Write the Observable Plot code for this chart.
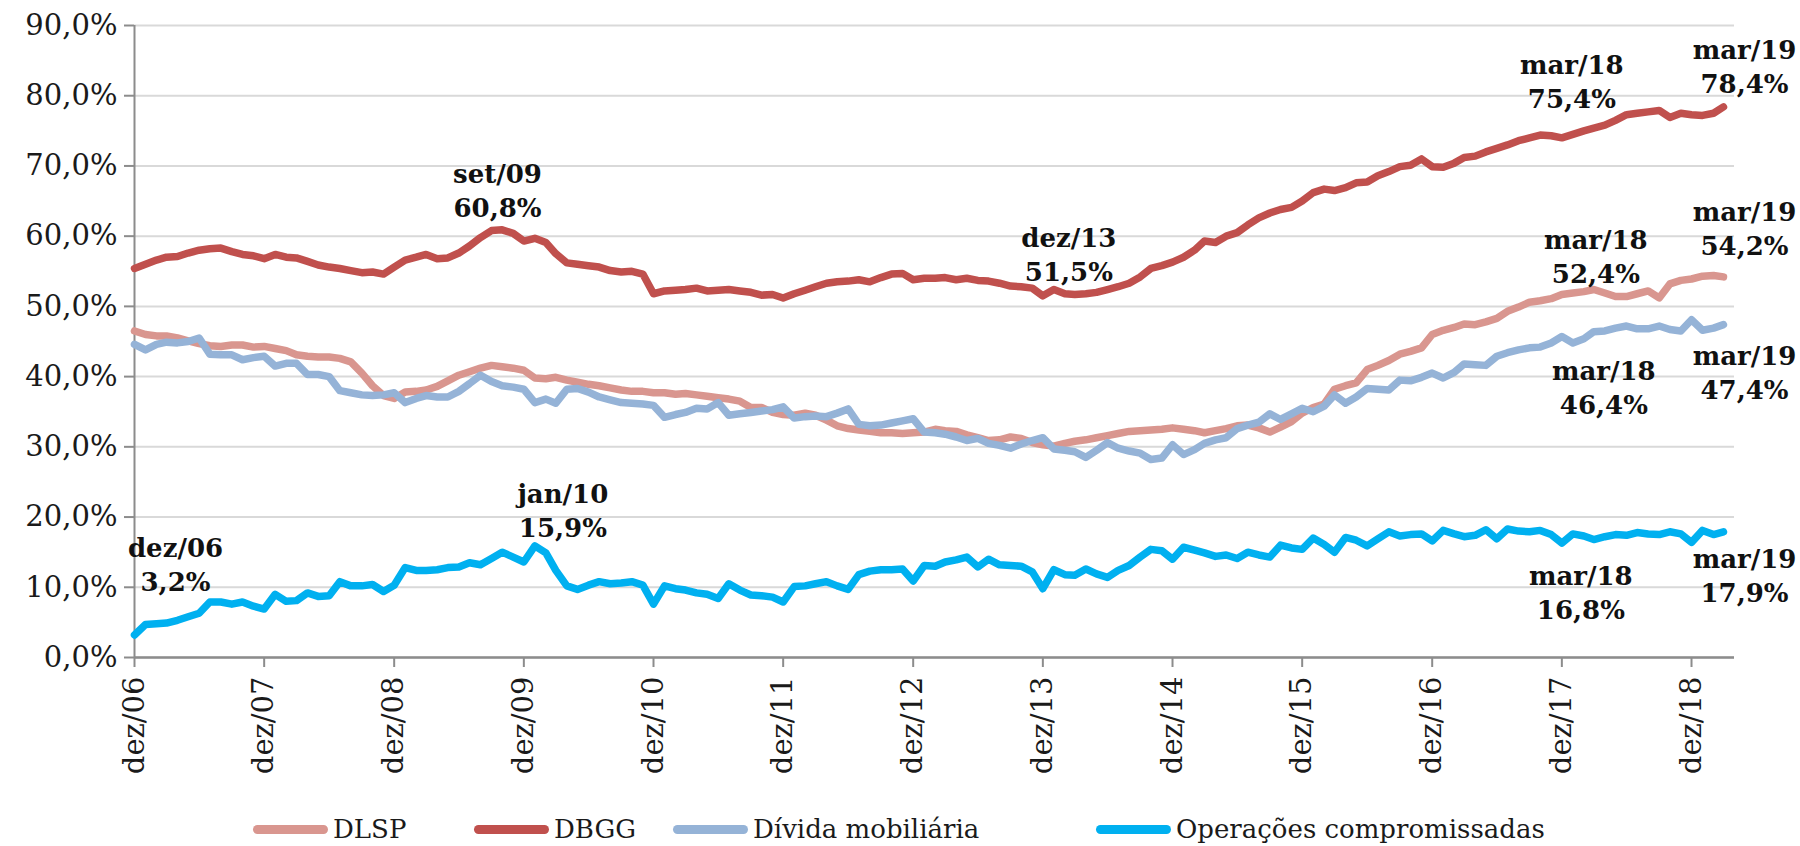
<!DOCTYPE html>
<html>
<head>
<meta charset="utf-8">
<script src="https://cdn.jsdelivr.net/npm/d3@7"></script>
<script src="https://cdn.jsdelivr.net/npm/@observablehq/plot@0.6"></script>
<style>
  html, body { margin: 0; padding: 0; background: #fff; }
  #wrap { position: relative; width: 1800px; height: 846px; overflow: hidden; font-family: "DejaVu Serif", serif; }
  #legend { position: absolute; top: 809px; left: 0; width: 1800px; height: 40px;
            font-family: "DejaVu Serif", serif; font-size: 26px; color: #1a1a1a; }
  .item { position: absolute; top: 0; height: 40px; display: flex; align-items: center; white-space: nowrap; }
  .sw { display: inline-block; width: 75px; height: 9px; border-radius: 5px; margin-right: 5px; }
</style>
</head>
<body>
<div id="wrap"><div id="chart"></div><div id="legend"></div></div>
<script>
// ---- data (monthly, dez/06 .. mar/19, % of GDP) ----
const seriesNames = ["DLSP", "DBGG", "Dívida mobiliária", "Operações compromissadas"];
const seriesColors = ["#D9968F", "#C0504D", "#95B3D7", "#00B0F0"];
const monthAbbr = ["jan","fev","mar","abr","mai","jun","jul","ago","set","out","nov","dez"];
const firstMonth = new Date(Date.UTC(2006, 11, 1));

const dlsp = [
  46.5,46.0,45.8,45.8,45.5,45.1,44.7,44.4,44.3,44.5,
  44.5,44.2,44.3,44.0,43.7,43.1,42.9,42.8,42.8,42.6,
  42.1,40.5,38.7,37.3,36.9,37.8,37.9,38.1,38.6,39.4,
  40.2,40.7,41.2,41.6,41.4,41.2,40.9,39.8,39.7,39.9,
  39.5,39.2,38.9,38.7,38.4,38.1,37.9,37.9,37.7,37.7,
  37.5,37.6,37.4,37.2,37.0,36.8,36.5,35.6,35.6,34.9,
  34.6,34.5,34.8,34.5,33.8,33.0,32.6,32.4,32.2,32.0,
  32.0,31.9,32.0,32.1,32.5,32.3,32.2,31.7,31.3,30.9,
  31.0,31.4,31.2,30.6,30.3,30.1,30.5,30.8,31.0,31.3,
  31.6,31.9,32.2,32.3,32.4,32.5,32.7,32.5,32.3,32.0,
  32.3,32.6,33.0,33.1,32.7,32.1,32.8,33.6,34.8,35.6,
  36.1,38.2,38.7,39.1,41.0,41.6,42.3,43.2,43.6,44.1,
  46.0,46.6,47.0,47.5,47.4,47.8,48.3,49.3,49.9,50.6,
  50.8,51.1,51.7,51.9,52.1,52.4,51.9,51.4,51.4,51.8,
  52.2,51.2,53.2,53.7,53.9,54.3,54.4,54.2
];
const dbgg = [
  55.4,56.0,56.6,57.0,57.1,57.6,58.0,58.2,58.3,57.8,
  57.4,57.2,56.8,57.4,57.0,56.9,56.4,55.9,55.6,55.4,
  55.1,54.8,54.9,54.6,55.6,56.6,57.0,57.4,56.8,56.9,
  57.6,58.6,59.8,60.8,60.9,60.4,59.3,59.7,59.1,57.5,
  56.2,56.0,55.8,55.6,55.1,54.9,55.0,54.6,51.8,52.2,
  52.3,52.4,52.6,52.2,52.3,52.4,52.2,52.0,51.6,51.7,
  51.2,51.8,52.3,52.8,53.3,53.5,53.6,53.8,53.5,54.1,
  54.6,54.7,53.8,54.0,54.0,54.1,53.8,54.0,53.7,53.6,
  53.3,52.9,52.8,52.6,51.5,52.4,51.8,51.7,51.8,52.0,
  52.4,52.8,53.3,54.2,55.4,55.8,56.3,57.0,58.0,59.3,
  59.1,60.0,60.5,61.6,62.6,63.3,63.8,64.1,65.0,66.2,
  66.7,66.5,66.9,67.6,67.7,68.6,69.2,69.9,70.1,71.0,
  69.9,69.8,70.4,71.2,71.4,72.0,72.5,73.0,73.6,74.0,
  74.4,74.3,74.0,74.5,75.0,75.4,75.8,76.5,77.3,77.5,
  77.7,77.9,76.9,77.5,77.3,77.2,77.5,78.4
];
const mobiliaria = [
  44.6,43.8,44.6,44.9,44.8,45.0,45.5,43.2,43.1,43.1,
  42.4,42.7,42.9,41.5,41.9,41.9,40.3,40.3,40.0,38.0,
  37.7,37.4,37.3,37.4,37.7,36.3,36.9,37.3,37.1,37.1,
  37.9,39.0,40.2,39.3,38.7,38.5,38.2,36.3,36.8,36.2,
  38.2,38.3,37.8,37.1,36.7,36.3,36.2,36.1,35.9,34.2,
  34.6,34.9,35.5,35.4,36.3,34.5,34.7,34.9,35.1,35.3,
  35.7,34.1,34.3,34.4,34.3,34.8,35.4,33.2,33.0,33.1,
  33.4,33.7,34.0,32.1,32.0,31.8,31.4,30.9,31.2,30.5,
  30.2,29.8,30.4,30.9,31.3,29.7,29.5,29.3,28.5,29.5,
  30.6,29.8,29.4,29.1,28.2,28.4,30.3,28.9,29.6,30.5,
  31.0,31.3,32.6,33.1,33.5,34.7,33.9,34.7,35.5,35.0,
  35.8,37.4,36.2,37.1,38.3,38.2,38.1,39.5,39.4,39.9,
  40.5,39.8,40.6,41.8,41.7,41.6,42.9,43.4,43.8,44.1,
  44.2,44.8,45.7,44.8,45.4,46.4,46.5,46.9,47.2,46.8,
  46.8,47.2,46.7,46.5,48.1,46.6,46.9,47.4
];
const compromissadas = [
  3.2,4.7,4.8,4.9,5.3,5.8,6.3,7.9,7.9,7.6,
  7.9,7.3,6.9,9.0,8.0,8.1,9.2,8.7,8.8,10.8,
  10.2,10.2,10.4,9.4,10.3,12.8,12.4,12.4,12.5,12.8,
  12.9,13.5,13.2,14.1,15.0,14.3,13.6,15.9,14.9,12.4,
  10.2,9.7,10.3,10.8,10.5,10.6,10.8,10.3,7.6,10.2,
  9.8,9.6,9.2,9.0,8.4,10.5,9.6,8.9,8.8,8.6,
  7.9,10.1,10.2,10.5,10.8,10.2,9.7,11.8,12.3,12.5,
  12.5,12.6,10.9,13.1,13.0,13.6,13.9,14.3,12.9,14.0,
  13.2,13.1,13.0,12.2,9.8,12.5,11.8,11.7,12.6,11.9,
  11.4,12.4,13.1,14.3,15.4,15.2,14.0,15.7,15.3,14.9,
  14.4,14.6,14.1,15.0,14.6,14.3,16.0,15.6,15.4,17.0,
  16.1,15.0,17.1,16.7,15.9,16.9,17.9,17.3,17.5,17.6,
  16.6,18.1,17.6,17.2,17.4,18.2,16.9,18.3,18.0,17.9,
  18.1,17.5,16.3,17.6,17.3,16.8,17.2,17.5,17.4,17.8,
  17.6,17.5,17.9,17.6,16.4,18.1,17.5,17.9
];
const yTicks = [0, 10, 20, 30, 40, 50, 60, 70, 80, 90];

// annotated points: series and month index (0 = dez/06)
const annotSeries = ["Operações compromissadas", "DBGG", "Operações compromissadas", "DBGG",
  "DBGG", "DBGG", "DLSP", "DLSP", "Dívida mobiliária", "Dívida mobiliária",
  "Operações compromissadas", "Operações compromissadas"];
const annotMonth = [0, 33, 37, 84, 135, 147, 135, 147, 135, 147, 135, 147];
// label offsets in pixels (layout)
const annotOffset = [[41,-72],[6,-41],[28,-37],[26,-43],[-22,-48],[21,-42],
  [2,-34],[21,-50],[10,54],[21,46],[-13,52],[21,42]];
// legend swatch left positions in pixels (layout)
const legendLeft = [253, 474, 673, 1096];

// ---- build ----
const seriesValues = [dlsp, dbgg, mobiliaria, compromissadas];
const months = d3.utcMonth.range(firstMonth, d3.utcMonth.offset(firstMonth, dlsp.length));
const rows = seriesNames.flatMap((name, i) =>
  seriesValues[i].map((v, m) => ({series: name, date: months[m], value: v})));
const fmtMonth = d => monthAbbr[d.getUTCMonth()] + "/" + String(d.getUTCFullYear() % 100).padStart(2, "0");
const fmtPct = v => v.toFixed(1).replace(".", ",") + "%";
const tickDates = months.filter(d => d.getUTCMonth() === 11);

const annots = annotSeries.map((s, i) => {
  const v = seriesValues[seriesNames.indexOf(s)][annotMonth[i]];
  const d = months[annotMonth[i]];
  return {date: d, value: v, label: fmtMonth(d) + "\n" + fmtPct(v), dx: annotOffset[i][0], dy: annotOffset[i][1]};
});

const chart = Plot.plot({
  width: 1800,
  height: 806,
  marginTop: 25,
  marginLeft: 134,
  marginRight: 66,
  marginBottom: 149,
  style: {fontFamily: "DejaVu Serif, serif", fontSize: "29px", background: "#fff", color: "#1a1a1a"},
  x: {type: "utc", domain: [firstMonth, d3.utcMonth.offset(firstMonth, 148)], label: null},
  y: {domain: [0, 90], label: null},
  color: {domain: seriesNames, range: seriesColors},
  marks: [
    Plot.gridY(yTicks, {stroke: "#d9d9d9", strokeOpacity: 1, strokeWidth: 2}),
    Plot.axisY(yTicks, {tickFormat: fmtPct, tickSize: 10, tickPadding: 7, fontSize: 29,
      stroke: "#8c8c8c", strokeWidth: 2, fill: "#1a1a1a", label: null}),
    Plot.axisX(tickDates, {tickFormat: fmtMonth, tickRotate: -90, tickSize: 10, tickPadding: 9,
      fontSize: 29, stroke: "#8c8c8c", strokeWidth: 2, fill: "#1a1a1a", label: null}),
    Plot.ruleX([firstMonth], {stroke: "#8c8c8c", strokeWidth: 2}),
    Plot.ruleY([0], {stroke: "#8c8c8c", strokeWidth: 2.5}),
    Plot.line(rows, {x: "date", y: "value", z: "series", stroke: "series",
      strokeWidth: 7.5, strokeLinejoin: "round", strokeLinecap: "round"}),
    ...annots.map(a => Plot.text([a], {x: "date", y: "value", text: "label", dx: a.dx, dy: a.dy,
      fontSize: 26, fontWeight: "bold", lineHeight: 1.31, fill: "#111", textAnchor: "middle"}))
  ]
});
document.getElementById("chart").appendChild(chart);

// legend
const legend = document.getElementById("legend");
seriesNames.forEach((name, i) => {
  const item = document.createElement("div");
  item.className = "item";
  item.style.left = legendLeft[i] + "px";
  const sw = document.createElement("span");
  sw.className = "sw";
  sw.style.background = seriesColors[i];
  item.appendChild(sw);
  item.appendChild(document.createTextNode(name));
  legend.appendChild(item);
});
</script>
</body>
</html>
